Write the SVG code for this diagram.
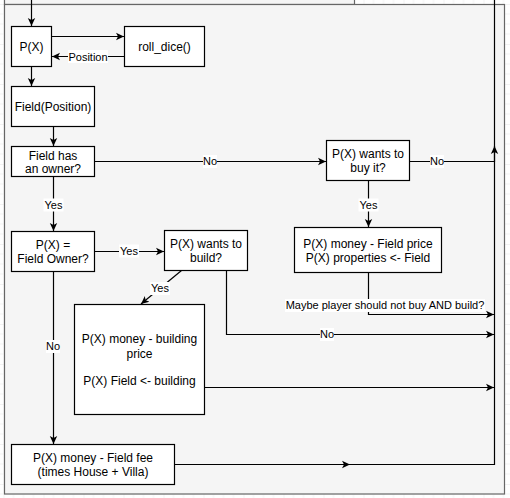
<svg xmlns="http://www.w3.org/2000/svg" width="510" height="498" viewBox="0 0 510 498">
<defs>
<pattern id="grid" x="3.5" y="4" width="40" height="40" patternUnits="userSpaceOnUse">
<path d="M0,0 H40 M0,0 V40" fill="none" stroke="#e6e6e6" stroke-width="1"/>
<path d="M10,0 V40 M20,0 V40 M30,0 V40 M0,10 H40 M0,20 H40 M0,30 H40" fill="none" stroke="#f3f3f3" stroke-width="1"/>
</pattern>
<marker id="arr" markerUnits="userSpaceOnUse" markerWidth="9" markerHeight="9" refX="8" refY="4" orient="auto" viewBox="0 0 9 8">
<path d="M0,0.3 L8,4 L0,7.7 L2,4 Z" fill="#000"/>
</marker>
<style>
.box{fill:#fff;stroke:#000;stroke-width:1.2}
.cont{fill:#f5f5f5;stroke:#666;stroke-width:1.2}
.t{font-family:"Liberation Sans",Arial,sans-serif;font-size:12px;text-anchor:middle;fill:#000}
.lb{font-family:"Liberation Sans",Arial,sans-serif;font-size:11px;text-anchor:middle;fill:#000}
.lbg{fill:#fff}
.e{fill:none;stroke:#000;stroke-width:1.2}
</style>
</defs>
<rect x="0" y="0" width="510" height="498" fill="#fff"/>
<rect x="0" y="0" width="510" height="498" fill="url(#grid)"/>
<rect class="cont" x="4.5" y="-40" width="350" height="44.5"/>
<rect class="cont" x="4.5" y="4.5" width="500" height="489.5"/>

<g id="connectors">
<path class="e" d="M31.5,0 V26" marker-end="url(#arr)"/>
<path class="e" d="M51.5,36.5 H124" marker-end="url(#arr)"/>
<path class="e" d="M124,56.5 H52" marker-end="url(#arr)"/>
<path class="e" d="M31.5,66.5 V86" marker-end="url(#arr)"/>
<path class="e" d="M53.5,126.5 V146" marker-end="url(#arr)"/>
<path class="e" d="M94.5,161.5 H326" marker-end="url(#arr)"/>
<path class="e" d="M409.5,161.5 H494.5 V146" marker-end="url(#arr)"/>
<path class="e" d="M368.5,180.5 V227" marker-end="url(#arr)"/>
<path class="e" d="M368.5,272.5 V314.5 H494" marker-end="url(#arr)"/>
<path class="e" d="M53.5,176.5 V231" marker-end="url(#arr)"/>
<path class="e" d="M94.5,251.5 H164" marker-end="url(#arr)"/>
<path class="e" d="M181.5,270.5 L141,304" marker-end="url(#arr)"/>
<path class="e" d="M226.5,270.5 V334.5 H494" marker-end="url(#arr)"/>
<path class="e" d="M204.5,387.5 H494" marker-end="url(#arr)"/>
<path class="e" d="M53.5,271.5 V444" marker-end="url(#arr)"/>
<path class="e" d="M174.5,464.5 H350" marker-end="url(#arr)"/>
<path class="e" d="M349,464.5 H494.5 V0"/>
<rect class="lbg" x="68" y="50" width="40" height="13"/>
<text class="lb" x="88" y="60.5">Position</text>
<rect class="lbg" x="203" y="155" width="14" height="13"/>
<text class="lb" x="210" y="165">No</text>
<rect class="lbg" x="430" y="155" width="14" height="13"/>
<text class="lb" x="437" y="165">No</text>
<rect class="lbg" x="43.5" y="198.5" width="20" height="13"/>
<text class="lb" x="53.5" y="209">Yes</text>
<rect class="lbg" x="358.5" y="198.5" width="20" height="13"/>
<text class="lb" x="368.5" y="209">Yes</text>
<rect class="lbg" x="119" y="244.5" width="20" height="13"/>
<text class="lb" x="129" y="255">Yes</text>
<rect class="lbg" x="150" y="282" width="20" height="13"/>
<text class="lb" x="160" y="292">Yes</text>
<rect class="lbg" x="285" y="299" width="200" height="13"/>
<text class="lb" x="385" y="309">Maybe player should not buy AND build?</text>
<rect class="lbg" x="320" y="328" width="14" height="13"/>
<text class="lb" x="327" y="338">No</text>
<rect class="lbg" x="46" y="340" width="14" height="13"/>
<text class="lb" x="53" y="350">No</text>
</g>

<g id="px">
<rect class="box" x="11.5" y="26.5" width="40" height="40"/>
<text class="t" x="31.5" y="50.5">P(X)</text>
</g>
<g id="roll_dice">
<rect class="box" x="124.5" y="26.5" width="80" height="40"/>
<text class="t" x="164.5" y="50.5">roll_dice()</text>
</g>
<g id="field_position">
<rect class="box" x="11.5" y="86.5" width="83" height="40"/>
<text class="t" x="53" y="110.5">Field(Position)</text>
</g>
<g id="has_owner">
<rect class="box" x="11.5" y="146.5" width="83" height="30"/>
<text class="t" x="53" y="159.5">Field has</text>
<text class="t" x="53" y="173">an owner?</text>
</g>
<g id="wants_buy">
<rect class="box" x="326.5" y="140.5" width="83" height="40"/>
<text class="t" x="368" y="158">P(X) wants to</text>
<text class="t" x="368" y="172">buy it?</text>
</g>
<g id="buy">
<rect class="box" x="294.5" y="227.5" width="147" height="45"/>
<text class="t" x="368" y="247.5">P(X) money - Field price</text>
<text class="t" x="368" y="262">P(X) properties &lt;- Field</text>
</g>
<g id="is_owner">
<rect class="box" x="11.5" y="231.5" width="83" height="40"/>
<text class="t" x="53" y="248.5">P(X) =</text>
<text class="t" x="53" y="262.5">Field Owner?</text>
</g>
<g id="wants_build">
<rect class="box" x="164.5" y="230.5" width="83" height="40"/>
<text class="t" x="206" y="248">P(X) wants to</text>
<text class="t" x="206" y="262">build?</text>
</g>
<g id="build">
<rect class="box" x="74.5" y="304.5" width="130" height="110"/>
<text class="t" x="139.5" y="342.5">P(X) money - building</text>
<text class="t" x="139.5" y="357.5">price</text>
<text class="t" x="139.5" y="385">P(X) Field &lt;- building</text>
</g>
<g id="fee">
<rect class="box" x="11.5" y="444.5" width="163" height="40"/>
<text class="t" x="93" y="462">P(X) money - Field fee</text>
<text class="t" x="93" y="476">(times House + Villa)</text>
</g>
</svg>
